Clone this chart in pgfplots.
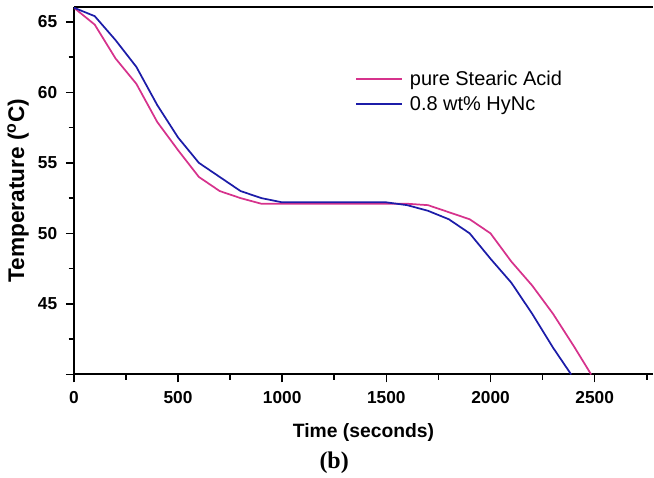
\documentclass[border=0pt]{standalone}
\usepackage{fontspec}
\setmainfont{Liberation Serif}
\setsansfont{Liberation Sans}
\usepackage{pgfplots}
\pgfplotsset{compat=1.18}
\definecolor{pinkline}{RGB}{214,50,140}
\definecolor{blueline}{RGB}{28,28,168}

\begin{document}
\begin{tikzpicture}
\begin{axis}[
    name=ax, scale only axis,
    width=435pt, height=276pt,
    xmin=0, xmax=2780, ymin=40, ymax=66.05,
    axis x line*=box, axis y line*=left,
    xtick pos=bottom, ytick pos=left,
    axis line style={line width=1.5pt},
    tick align=outside,
    major tick length=6pt, minor tick length=4pt,
    every tick/.style={black, line width=1.2pt},
    xtick={0,500,...,2500},
    minor xtick={250,750,...,2750},
    ytick={40,45,...,65},
    yticklabels={,45,50,55,60,65},
    minor ytick={42.5,47.5,...,62.5},
    /pgf/number format/assume math mode=true,
    /pgf/number format/set thousands separator={},
    scaled x ticks=false,
    xticklabel style={font=\sffamily\bfseries\fontsize{13}{15}\selectfont, yshift=-3pt},
    yticklabel style={font=\sffamily\bfseries\fontsize{13}{15}\selectfont, xshift=-3pt},
    xlabel={Time (seconds)},
    ylabel={Temperature (\textsuperscript{o}C)},
    xlabel style={font=\sffamily\bfseries\fontsize{14.5}{16}\selectfont, yshift=-8pt},
    ylabel style={font=\sffamily\bfseries\fontsize{17}{19}\selectfont, yshift=0pt},
    legend style={draw=none, fill=none, font=\sffamily\fontsize{15}{18}\selectfont,
                  at={(0.486,0.835)}, anchor=north west,
                  row sep=3pt, inner sep=0pt},
    legend cell align=left,
    legend image code/.code={\draw[#1, line width=1.3pt] (0pt,0pt) -- (34.5pt,0pt);},
    every axis plot/.append style={line width=1.3pt},
]
\addplot[pinkline] coordinates {
  (0,66.0) (100,64.8) (200,62.4) (300,60.6) (400,57.9) (500,55.9)
  (600,54.0) (700,53.0) (800,52.5) (900,52.1) (1000,52.1) (1100,52.1)
  (1200,52.1) (1300,52.1) (1400,52.1) (1500,52.1) (1600,52.1) (1700,52.0)
  (1800,51.5) (1900,51.0) (2000,50.0) (2100,48.0) (2200,46.3)
  (2300,44.3) (2400,42.0) (2483,40.0)
};
\addlegendentry{\hspace{3pt}pure Stearic Acid}
\addplot[blueline] coordinates {
  (0,66.0) (100,65.4) (200,63.7) (300,61.8) (400,59.1) (500,56.8)
  (600,55.0) (700,54.0) (800,53.0) (900,52.5) (1000,52.2) (1100,52.2)
  (1200,52.2) (1300,52.2) (1400,52.2) (1500,52.2) (1600,52.0) (1700,51.6)
  (1800,51.0) (1900,50.0) (2000,48.2) (2100,46.5) (2200,44.3)
  (2300,41.9) (2387,40.0)
};
\addlegendentry{\hspace{3pt}0.8 wt\% HyNc}
\end{axis}
\node[font=\rmfamily\bfseries\fontsize{18}{20}\selectfont] at ([xshift=-22pt,yshift=-66pt]ax.south) {(b)};
\path[use as bounding box] ([xshift=-55.5pt,yshift=-72pt]ax.south west) rectangle ([yshift=5.25pt]ax.north east);
\end{tikzpicture}
\end{document}
